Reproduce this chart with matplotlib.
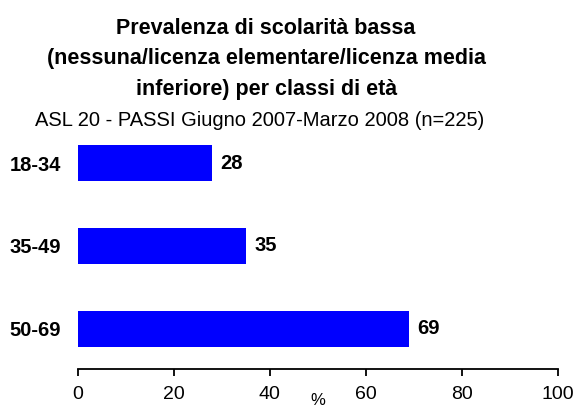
import matplotlib
matplotlib.use("Agg")
import matplotlib.pyplot as plt

plt.rcParams["font.family"] = ["Liberation Sans", "DejaVu Sans"]

# Data
age_classes = ["18-34", "35-49", "50-69"]
values = [28, 35, 69]
x_ticks = [0, 20, 40, 60, 80, 100]

title_lines = ["Prevalenza di scolarità bassa",
               "(nessuna/licenza elementare/licenza media",
               "inferiore) per classi di età"]
subtitle = "ASL 20 - PASSI Giugno 2007-Marzo 2008 (n=225)"

fig = plt.figure(figsize=(5.76, 4.08), dpi=100)
ax = fig.add_axes([0.135, 0.0956, 0.834, 0.6066])

ypos = range(len(age_classes))
ax.barh(ypos, values, height=0.434, color="#0000FF")
for y, v in zip(ypos, values):
    ax.text(v + 1.7, y, f"{v}", va="center", ha="left", fontsize=14.5, fontweight="bold")

ax.set_xlim(0, 100)
ax.set_ylim(2.482, -0.5)
ax.set_yticks(list(ypos))
ax.set_yticklabels(age_classes, fontsize=14.5, fontweight="bold")
ax.tick_params(axis="y", length=0, pad=12)
ax.set_xticks(x_ticks)
ax.tick_params(axis="x", direction="out", length=5, width=1.3, labelsize=14, pad=7.5)
for s in ["top", "right", "left"]:
    ax.spines[s].set_visible(False)
ax.spines["bottom"].set_linewidth(1.3)

# "%" sits between the 40 and 60 tick labels, a bit lower
ax.text(50, -0.145, "%", transform=ax.get_xaxis_transform(), ha="center", va="baseline", fontsize=12)

# title, one line at a time
for line, yb in zip(title_lines, [0.9167, 0.843, 0.767]):
    fig.text(0.462, yb, line, ha="center", va="baseline", fontsize=15.5, fontweight="bold")
fig.text(0.45, 0.691, subtitle, ha="center", va="baseline", fontsize=14.5)

fig.savefig("out.png", dpi=100)
